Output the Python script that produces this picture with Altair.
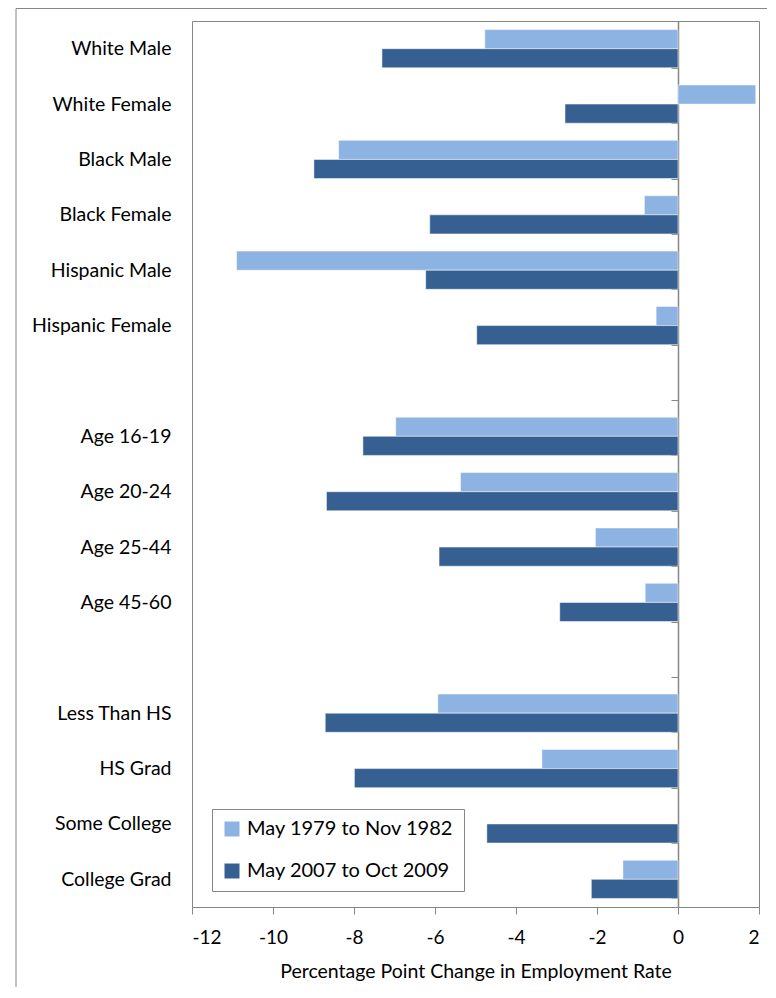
import altair as alt
import pandas as pd

categories = ["White Male", "White Female", "Black Male", "Black Female",
              "Hispanic Male", "Hispanic Female", " ",
              "Age 16-19", "Age 20-24", "Age 25-44", "Age 45-60", "  ",
              "Less Than HS", "HS Grad", "Some College", "College Grad"]
series = ["May 1979 to Nov 1982", "May 2007 to Oct 2009"]
values_1982 = [-4.77, 1.92, -8.38, -0.83, -10.90, -0.54, None,
               -6.97, -5.37, -2.04, -0.81, None,
               -5.93, -3.36, None, -1.36]
values_2009 = [-7.31, -2.79, -8.99, -6.13, -6.23, -4.97, None,
               -7.78, -8.68, -5.90, -2.92, None,
               -8.71, -7.99, -4.72, -2.14]
colors = ["#8DB3E2", "#376092"]
x_ticks = [-12, -10, -8, -6, -4, -2, 0, 2]

rows = []
for cat, v1, v2 in zip(categories, values_1982, values_2009):
    if v1 is not None:
        rows.append({"category": cat, "series": series[0], "value": v1})
    if v2 is not None:
        rows.append({"category": cat, "series": series[1], "value": v2})
df = pd.DataFrame(rows)

FONT = "Lato"
GRAY = "#868686"

frame = alt.Chart(pd.DataFrame({"a": [0]})).mark_rect(
    fillOpacity=0, stroke=GRAY, strokeWidth=1
).encode(
    x=alt.value(-176), x2=alt.value(640),
    y=alt.value(-12.5), y2=alt.value(1010)
)

bars = alt.Chart(df).mark_bar(stroke="white", strokeWidth=0.5).encode(
    x=alt.X("value:Q",
            scale=alt.Scale(domain=[-12, 2], nice=False, zero=False),
            axis=alt.Axis(values=x_ticks, title="Percentage Point Change in Employment Rate",
                          labelExpr="'' + datum.value",
                          grid=False, domainColor=GRAY, domainWidth=1,
                          tickColor=GRAY, tickSize=7, labelFont=FONT, labelFontSize=19,
                          labelColor="black", labelPadding=14,
                          titleFont=FONT, titleFontSize=19.5, titleFontWeight="normal",
                          titleColor="black", titlePadding=15)),
    y=alt.Y("category:N",
            scale=alt.Scale(domain=categories, paddingInner=0.31, paddingOuter=0.155),
            axis=alt.Axis(title=None, orient="left", offset=-486, domain=True,
                          domainColor=GRAY, domainWidth=1.5, ticks=True, tickBand="extent",
                          tickSize=7, tickColor=GRAY, labelPadding=500,
                          labelFont=FONT, labelFontSize=19.5, labelColor="black",
                          labelLimit=300)),
    yOffset=alt.YOffset("series:N", scale=alt.Scale(domain=series, paddingInner=0)),
    color=alt.Color("series:N",
                    scale=alt.Scale(domain=series, range=colors),
                    legend=alt.Legend(title=None, orient="none", legendX=20, legendY=788,
                                      symbolType="square", symbolSize=225,
                                      symbolStrokeWidth=0,
                                      labelFont=FONT, labelFontSize=20, labelColor="black",
                                      labelOffset=5, rowPadding=22, padding=10,
                                      strokeColor=GRAY, fillColor="white",
                                      labelLimit=400)),
)

chart = alt.layer(frame, bars).properties(
    width=567, height=886,
    autosize=alt.AutoSizeParams(type="none"),
    padding={"left": 184, "top": 13, "right": 8, "bottom": 80},
    background="white",
).configure_view(stroke=GRAY, strokeWidth=1)

chart.save("out.html", embed_options={"renderer": "svg", "actions": False})
